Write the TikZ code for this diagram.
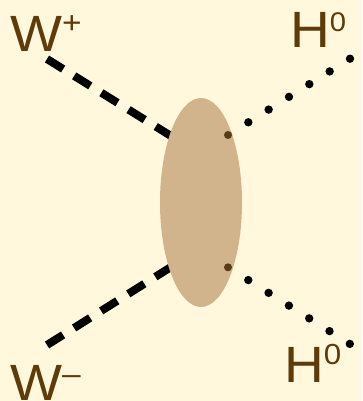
\documentclass[tikz,border=0pt]{standalone}
\usepackage{fontspec}
\setmainfont{Liberation Sans}
\usetikzlibrary{shapes.geometric}
\definecolor{bg}{RGB}{255,248,220}
\definecolor{blob}{RGB}{210,180,140}
\definecolor{lbl}{RGB}{94,59,8}
\definecolor{vtx}{RGB}{88,60,22}
\begin{document}
\begin{tikzpicture}[x=1pt,y=-1pt,
  wline/.style={line width=8pt, dash pattern=on 19pt off 13pt, line cap=butt},
  hline/.style={line width=8.4pt, line cap=round, dash pattern=on 0pt off 23.98pt},
  vdot/.style={circle, fill=vtx, inner sep=0pt, minimum size=8pt},
  lab/.style={text=lbl, inner sep=0pt, font=\fontsize{51}{51}\selectfont, xscale=1.08}]
\fill[bg] (0,0) rectangle (362,401);
\useasboundingbox (0,0) rectangle (362,401);
% free ends
\coordinate (wpend) at (47,59);
\coordinate (wmend) at (47,345);
\coordinate (hpend) at (350,58.7);
\coordinate (hmend) at (350,344);
\coordinate (wpv) at (171,136);
\coordinate (wmv) at (171,267);
\coordinate (hpv) at (228,135);
\coordinate (hmv) at (228,267.3);
\draw[wline] (wpend) -- (wpv);
\draw[wline] (wmend) -- (wmv);
\draw[hline] (hpv) -- (hpend);
\draw[hline] (hmv) -- (hmend);
\node[ellipse, fill=blob, minimum width=82pt, minimum height=209pt, inner sep=0pt] (blobnode) at (201,202.5) {};
\node[vdot] (v1) at (hpv) {};
\node[vdot] (v2) at (hmv) {};
\node[lab, anchor=base west] (wp) at (10,52) {W\raisebox{0.36em}{\fontsize{31}{31}\selectfont +}};
\node[lab, anchor=base west] (hp) at (290,48) {H\raisebox{0.32em}{\fontsize{27}{27}\selectfont 0}};
\node[lab, anchor=base west] (wm) at (10,400) {W\raisebox{0.3em}{\fontsize{31}{31}\selectfont –}};
\node[lab, anchor=base west] (hm) at (284,382) {H\raisebox{0.34em}{\fontsize{29}{29}\selectfont 0}};
\end{tikzpicture}
\end{document}
